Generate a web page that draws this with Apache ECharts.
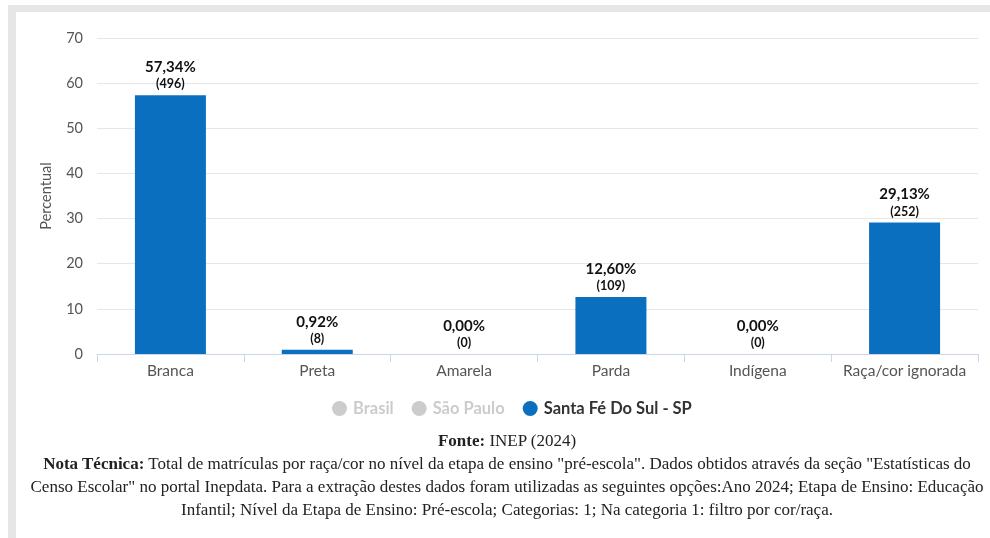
<!DOCTYPE html>
<html>
<head>
<meta charset="utf-8">
<script src="https://cdn.jsdelivr.net/npm/echarts@6/dist/echarts.min.js"></script>
<style>
  html, body { margin: 0; padding: 0; background: #ffffff; }
  #wrap { position: relative; width: 990px; height: 538px; overflow: hidden; background: #fff; }
  #frameTop { position: absolute; left: 8px; top: 5px; width: 982px; height: 7px; background: #e6e6e6; }
  #frameLeft { position: absolute; left: 8px; top: 5px; width: 8px; height: 533px; background: #e6e6e6; }
  #chart { position: absolute; left: 0; top: 0; width: 990px; height: 538px; }
  #footer { position: absolute; left: 16px; width: 982px; top: 429px; text-align: center;
            font-family: "Liberation Serif", "DejaVu Serif", serif; font-size: 17px; color: #222; line-height: 23px; }
  #footer b { font-weight: bold; }
</style>
</head>
<body>
<div id="wrap">
  <div id="frameTop"></div>
  <div id="frameLeft"></div>
  <div id="chart"></div>
  <div id="footer">
    <div><b>Fonte:</b> INEP (2024)</div>
    <div><b>Nota Técnica:</b> Total de matrículas por raça/cor no nível da etapa de ensino "pré-escola". Dados obtidos através da seção "Estatísticas do<br>Censo Escolar" no portal Inepdata. Para a extração destes dados foram utilizadas as seguintes opções:Ano 2024; Etapa de Ensino: Educação<br>Infantil; Nível da Etapa de Ensino: Pré-escola; Categorias: 1; Na categoria 1: filtro por cor/raça.</div>
  </div>
</div>
<script>
const categories = ["Branca", "Preta", "Amarela", "Parda", "Indígena", "Raça/cor ignorada"];
const percentValues = [57.34, 0.92, 0.00, 12.60, 0.00, 29.13];
const countValues = [496, 8, 0, 109, 0, 252];
const yTicks = { min: 0, max: 70, interval: 10 };
const seriesNames = ["Brasil", "São Paulo", "Santa Fé Do Sul - SP"];

const FONT = "Lato, 'Noto Sans', sans-serif";
const chart = echarts.init(document.getElementById('chart'), null, { renderer: 'canvas' });

function fmtPct(v) { return v.toFixed(2).replace('.', ',') + '%'; }

const option = {
  animation: false,
  textStyle: { fontFamily: FONT },
  grid: { left: 97, right: 12, top: 38, bottom: 184, containLabel: false },
  legend: {
    data: seriesNames,
    top: 395,
    left: 327,
    icon: 'circle',
    itemWidth: 15,
    itemHeight: 15,
    itemGap: 18,
    selected: { "Brasil": false, "São Paulo": false, "Santa Fé Do Sul - SP": true },
    inactiveColor: '#cccccc',
    textStyle: { fontFamily: FONT, fontSize: 16.5, fontWeight: 'bold', color: '#333333', padding: [0, 0, 0, 1] }
  },
  xAxis: {
    type: 'category',
    data: categories,
    axisLine: { show: true, lineStyle: { color: '#ccd6eb', width: 1 } },
    axisTick: { show: true, alignWithLabel: false, length: 8, lineStyle: { color: '#ccd6eb' } },
    axisLabel: { interval: 0, hideOverlap: false, color: '#555555', fontSize: 15.5, margin: 9, fontFamily: FONT }
  },
  yAxis: {
    type: 'value',
    min: yTicks.min, max: yTicks.max, interval: yTicks.interval,
    name: 'Percentual',
    nameLocation: 'middle',
    nameGap: 43,
    nameTextStyle: { color: '#555555', fontSize: 14.5, fontFamily: FONT },
    axisLine: { show: false },
    axisTick: { show: false },
    axisLabel: { color: '#555555', fontSize: 14.5, margin: 14, fontFamily: FONT },
    splitLine: { lineStyle: { color: '#e6e6e6', width: 1 } }
  },
  series: [
    { name: seriesNames[0], type: 'bar', data: [], itemStyle: { color: '#cccccc' } },
    { name: seriesNames[1], type: 'bar', data: [], itemStyle: { color: '#cccccc' } },
    {
      name: seriesNames[2],
      type: 'bar',
      barWidth: 71,
      barGap: '-100%',
      data: percentValues,
      itemStyle: { color: '#0b6fc0' },
      label: {
        show: true,
        position: 'top',
        distance: 3,
        formatter: function (p) {
          return '{a|' + fmtPct(p.value) + '}\n{b|(' + countValues[p.dataIndex] + ')}';
        },
        rich: {
          a: { fontSize: 15, fontWeight: 'bold', color: '#111111', lineHeight: 18, fontFamily: FONT },
          b: { fontSize: 12.5, fontWeight: 'bold', color: '#111111', lineHeight: 16, fontFamily: FONT }
        }
      }
    }
  ]
};
chart.setOption(option);
</script>
</body>
</html>
